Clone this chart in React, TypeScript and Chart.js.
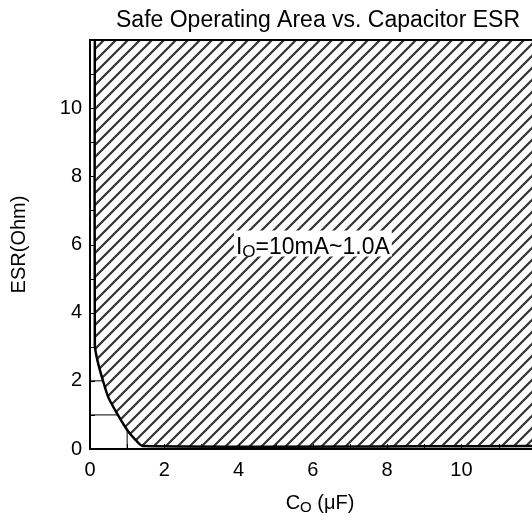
import React, { useEffect, useRef } from "react";
import { Chart, registerables } from "chart.js";

Chart.register(...registerables);

// Boundary of the safe operating area (Co in uF, ESR in Ohm)
const boundaryCo = [0.13, 0.13, 0.2, 0.35, 0.5, 0.75, 1.0, 1.2, 1.42, 11.9];
const boundaryEsr = [12, 3.05, 2.6, 2.0, 1.5, 1.0, 0.56, 0.3, 0.09, 0.09];

// Thin helper lines in the lower-left corner
const gridH1Co = [0, 0.75];
const gridH1Esr = [1, 1];
const gridH2Co = [0, 0.35];
const gridH2Esr = [2, 2];
const gridVCo = [1, 1];
const gridVEsr = [0, 0.56];

const xTickLabels = ["0", "2", "4", "6", "8", "10"];
const yTickLabels = ["0", "2", "4", "6", "8", "10"];

const titleText = "Safe Operating Area vs. Capacitor ESR";
const yTitle = "ESR(Ohm)";
const areaLabel = { main: "I", sub: "O", rest: "=10mA~1.0A", x: 6, y: 6 };
const xTitle = { main: "C", sub: "O", rest: " (\u03bcF)" };

const FONT = "'Liberation Sans', Arial, sans-serif";

function pts(xs: number[], ys: number[]) {
  return xs.map((x, i) => ({ x, y: ys[i] }));
}

export default function App() {
  const ref = useRef<HTMLCanvasElement | null>(null);

  useEffect(() => {
    document.body.style.margin = "0";
    const canvas = ref.current;
    if (!canvas) return;

    const S = 12;
    const pc = document.createElement("canvas");
    pc.width = S;
    pc.height = S;
    const p = pc.getContext("2d")!;
    p.strokeStyle = "#333";
    p.lineWidth = 2.2;
    p.lineCap = "square";
    p.beginPath();
    p.moveTo(-2, S + 2);
    p.lineTo(S + 2, -2);
    p.moveTo(-S / 2 - 2, S / 2 + 2);
    p.lineTo(S / 2 + 2, -S / 2 - 2);
    p.moveTo(S / 2 - 2, S + S / 2 + 2);
    p.lineTo(S + S / 2 + 2, S / 2 - 2);
    p.stroke();
    const ctx0 = canvas.getContext("2d")!;
    const pattern = ctx0.createPattern(pc, "repeat")!;

    const decor = {
      id: "decor",
      afterDraw(chart: any) {
        const ctx = chart.ctx;
        const xs = chart.scales.x;
        const ys = chart.scales.y;
        const area = chart.chartArea;
        ctx.save();
        ctx.strokeStyle = "#000";
        // top frame
        ctx.lineWidth = 2;
        ctx.beginPath();
        ctx.moveTo(area.left - 1, area.top);
        ctx.lineTo(area.right, area.top);
        ctx.stroke();
        // inward ticks
        ctx.lineWidth = 1;
        ctx.beginPath();
        for (const t of xs.ticks) {
          const px = Math.round(xs.getPixelForValue(t.value)) + 0.5;
          ctx.moveTo(px, area.bottom);
          ctx.lineTo(px, area.bottom - 5);
        }
        for (const t of ys.ticks) {
          const py = Math.round(ys.getPixelForValue(t.value)) + 0.5;
          ctx.moveTo(area.left, py);
          ctx.lineTo(area.left + 5, py);
        }
        ctx.stroke();

        // title
        ctx.fillStyle = "#000";
        ctx.font = `23px ${FONT}`;
        ctx.textAlign = "center";
        ctx.textBaseline = "alphabetic";
        ctx.fillText(titleText, 318, 27);

        // area label with white box
        const cx = xs.getPixelForValue(areaLabel.x);
        const cy = ys.getPixelForValue(areaLabel.y);
        const big = `23px ${FONT}`;
        const small = `17px ${FONT}`;
        ctx.textAlign = "left";
        ctx.font = big;
        const w1 = ctx.measureText(areaLabel.main).width;
        const w3 = ctx.measureText(areaLabel.rest).width;
        ctx.font = small;
        const w2 = ctx.measureText(areaLabel.sub).width;
        const tw = w1 + w2 + w3;
        const x0 = cx - tw / 2;
        const base = cy + 9;
        ctx.fillStyle = "#fff";
        ctx.fillRect(x0 - 2, base - 23, tw + 4, 26);
        ctx.fillStyle = "#000";
        ctx.font = big;
        ctx.fillText(areaLabel.main, x0, base);
        ctx.font = small;
        ctx.fillText(areaLabel.sub, x0 + w1, base + 3);
        ctx.font = big;
        ctx.fillText(areaLabel.rest, x0 + w1 + w2, base);

        // x title
        const xb = `20px ${FONT}`;
        const xsml = `15px ${FONT}`;
        ctx.font = xb;
        const a1 = ctx.measureText(xTitle.main).width;
        const a3 = ctx.measureText(xTitle.rest).width;
        ctx.font = xsml;
        const a2 = ctx.measureText(xTitle.sub).width;
        const xt0 = 320 - (a1 + a2 + a3) / 2;
        ctx.font = xb;
        ctx.fillText(xTitle.main, xt0, 509);
        ctx.font = xsml;
        ctx.fillText(xTitle.sub, xt0 + a1, 512);
        ctx.font = xb;
        ctx.fillText(xTitle.rest, xt0 + a1 + a2, 509);

        // y title
        ctx.save();
        ctx.translate(25, (area.top + area.bottom) / 2);
        ctx.rotate(-Math.PI / 2);
        ctx.textAlign = "center";
        ctx.font = `20px ${FONT}`;
        ctx.fillText(yTitle, 0, 0);
        ctx.restore();
        ctx.restore();
      },
    };

    const thin = (data: any) => ({
      data,
      showLine: true,
      borderColor: "#000",
      borderWidth: 1,
      pointRadius: 0,
      fill: false,
    });

    const chart = new Chart(canvas, {
      type: "scatter",
      data: {
        datasets: [
          {
            data: pts(boundaryCo, boundaryEsr),
            showLine: true,
            borderColor: "#000",
            borderWidth: 2.5,
            pointRadius: 0,
            fill: "end",
            backgroundColor: pattern as any,
            tension: 0.25,
          } as any,
          thin(pts(gridH1Co, gridH1Esr)),
          thin(pts(gridH2Co, gridH2Esr)),
          thin(pts(gridVCo, gridVEsr)),
        ],
      },
      options: {
        animation: false,
        responsive: false,
        events: [],
        layout: { padding: { top: 40, left: 0, right: 0, bottom: 0 } },
        plugins: {
          legend: { display: false },
          title: { display: false },
          tooltip: { enabled: false },
        },
        scales: {
          x: {
            type: "linear",
            min: 0,
            max: 11.9,
            afterFit: (s: any) => {
              s.height = 72;
            },
            grid: { display: true, drawOnChartArea: false, drawTicks: false },
            border: { display: true, color: "#000", width: 2 },
            ticks: {
              stepSize: 1,
              includeBounds: false,
              autoSkip: false,
              maxRotation: 0,
              padding: 9,
              color: "#000",
              font: { family: FONT, size: 20 },
              callback: (v: any) => {
                const s = String(v);
                return xTickLabels.includes(s) ? s : "";
              },
            },
          },
          y: {
            type: "linear",
            min: 0,
            max: 12,
            afterFit: (s: any) => {
              s.width = 90;
            },
            grid: { display: true, drawOnChartArea: false, drawTicks: false },
            border: { display: true, color: "#000", width: 2 },
            ticks: {
              stepSize: 1,
              autoSkip: false,
              padding: 8,
              color: "#000",
              font: { family: FONT, size: 20 },
              callback: (v: any) => {
                const s = String(v);
                return yTickLabels.includes(s) ? s : "";
              },
            },
          },
        },
      } as any,
      plugins: [decor],
    });

    return () => chart.destroy();
  }, []);

  return (
    <div style={{ width: 532, height: 521, background: "#fff" }}>
      <canvas ref={ref} width={532} height={521} style={{ display: "block" }} />
    </div>
  );
}
